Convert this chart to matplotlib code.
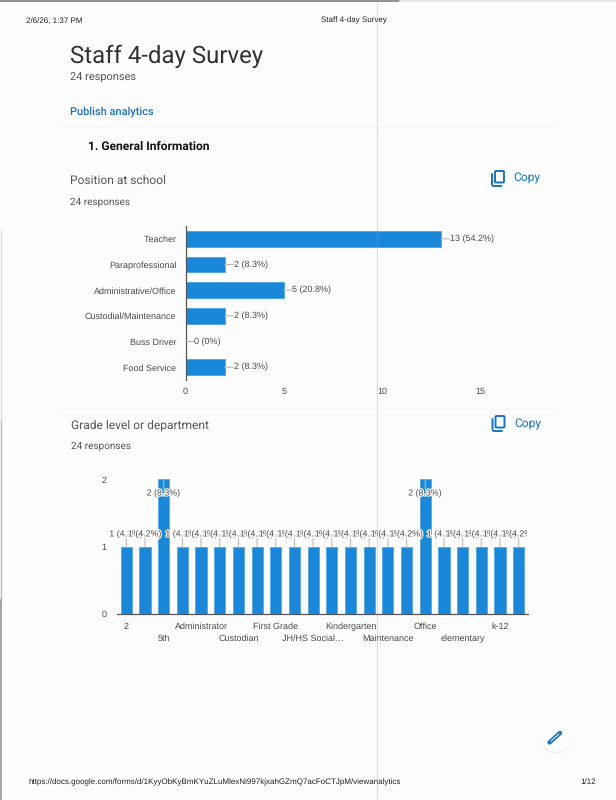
import matplotlib
matplotlib.use("Agg")
import matplotlib.pyplot as plt
import matplotlib.patheffects as pe
from matplotlib.patches import Circle, FancyBboxPatch
from matplotlib.transforms import Bbox

plt.rcParams["text.hinting"] = "no_hinting"
plt.rcParams["text.hinting_factor"] = 1

W, H = 616, 800
DPI = 100
BLUE = "#1a87d8"
LINK = "#1a73c0"
TXT = "#444444"
SANS = "Liberation Sans"
ROB = "Roboto"
CHART_FS = 6.35

positions = ["Teacher", "Paraprofessional", "Administrative/Office",
             "Custodial/Maintenance", "Buss Driver", "Food Service"]
position_counts = [13, 2, 5, 2, 0, 2]
position_labels = ["13 (54.2%)", "2 (8.3%)", "5 (20.8%)", "2 (8.3%)", "0 (0%)", "2 (8.3%)"]
position_ticks = [0, 5, 10, 15]

# Only every second category name is legible in the reference
grades = ["2", "", "5th", "", "Administrator", "", "Custodian", "", "First Grade", "",
          "JH/HS Social…", "", "Kindergarten", "", "Maintenance", "", "Office", "",
          "elementary", "", "k-12", ""]
grade_counts = [1, 1, 2, 1, 1, 1, 1, 1, 1, 1, 1, 1, 1, 1, 1, 1, 2, 1, 1, 1, 1, 1]
grade_labels = ["8.3%" if c == 2 else "4.2%" for c in grade_counts]
grade_ticks = [0, 1, 2]


def axes_px(fig, left, top, right, bottom):
    return fig.add_axes([left / W, 1 - bottom / H, (right - left) / W, (bottom - top) / H])


fig = plt.figure(figsize=(W / DPI, H / DPI), dpi=DPI, facecolor="#fdfdfd")

# page layer in pixel coordinates
pg = fig.add_axes([0, 0, 1, 1], zorder=0)
pg.set_xlim(0, W)
pg.set_ylim(H, 0)
pg.axis("off")


def t(x, y, s, size, color=TXT, family=SANS, **kw):
    kw.setdefault("va", "center")
    pg.text(x, y, s, fontsize=size, color=color, family=family, **kw)


t(26, 20.5, "2/6/26, 1:37 PM", 5.8, "#222222")
t(353.5, 20, "Staff 4-day Survey", 5.8, "#222222", ha="center")
t(70, 56, "Staff 4-day Survey", 17.6, "#333333", ROB)
t(70, 77.5, "24 responses", 7.8, "#555555", ROB)
t(70, 112, "Publish analytics", 8.1, LINK, ROB, fontweight="medium")
t(87.5, 146.5, "1. General Information", 8.7, "#111111", ROB, fontweight="bold")
t(70, 180.5, "Position at school", 8.9, "#555555", ROB)
t(70, 202, "24 responses", 6.9, "#555555", ROB)
t(71, 425, "Grade level or department", 8.9, "#555555", ROB)
t(71, 446.5, "24 responses", 6.9, "#555555", ROB)
t(28, 782, "https://docs.google.com/forms/d/1KyyObKyBmKYuZLuMlexNi997kjxahGZmQ7acFoCTJpM/viewanalytics",
  5.8, "#222222")
t(596, 782, "1/12", 5.8, "#222222", ha="right")


def copy_icon(x, y):
    pg.add_patch(FancyBboxPatch((x + 3, y), 9, 11.5, boxstyle="round,pad=0,rounding_size=1",
                                fc="none", ec=LINK, lw=1.4))
    pg.plot([x, x, x + 1, x + 9.5], [y + 3, y + 13.5, y + 15, y + 15], color=LINK, lw=1.4,
            solid_capstyle="round")


copy_icon(492, 171)
t(513.5, 178.5, "Copy", 8.4, LINK, ROB)
copy_icon(492.5, 416)
t(514, 424.5, "Copy", 8.4, LINK, ROB)

# scan artefacts and faint card edges
pg.plot([0, 400], [0.6, 0.6], color="#8a9298", lw=1.4)
pg.plot([400, 616], [0.6, 0.6], color="#e4e6e8", lw=1.2)
pg.plot([0.5, 0.5], [230, 420], color="#e2e2e2", lw=1.0)
pg.plot([0.5, 0.5], [420, 600], color="#bdbdbd", lw=1.0)
pg.plot([0.5, 0.5], [600, 800], color="#8f8f8f", lw=1.1)
pg.plot([60, 555], [126.7, 126.7], color="#f6f6f6", lw=0.8)
pg.plot([60, 555], [408.7, 408.7], color="#f6f6f6", lw=0.8)

# floating edit button
pg.add_patch(Circle((556, 738), 15.5, fc="#efefef", ec="none"))
pg.add_patch(Circle((556, 736.5), 15.5, fc="#fdfdfd", ec="none"))
pg.plot([549.5, 560], [742.5, 733], color=LINK, lw=3.1, solid_capstyle="round")
pg.plot([551, 559], [741, 734], color="#e8f0f8", lw=0.7)

# chart 1
ax1 = axes_px(fig, 185.5, 226, 185.5 + 17 * 19.65, 380)
ax1.set_facecolor("none")
ax1.barh(range(len(positions)), position_counts, height=0.6, color=BLUE, edgecolor="#4aa3e6", lw=0.6, zorder=2)
ax1.set_xlim(0, 17)
ax1.set_ylim(len(positions) - 0.5, -0.5)
ax1.set_yticks(range(len(positions)), positions)
ax1.set_xticks(position_ticks)
ax1.tick_params(length=0, labelsize=CHART_FS, labelcolor="#4a4a4a", pad=6.5)
ax1.tick_params(axis="x", pad=5.2)
for lab in ax1.get_xticklabels() + ax1.get_yticklabels():
    lab.set_family(SANS)
for s in ["top", "right", "bottom"]:
    ax1.spines[s].set_visible(False)
ax1.spines["left"].set_color("#555555")
ax1.spines["left"].set_linewidth(0.9)
for i, (v, lab) in enumerate(zip(position_counts, position_labels)):
    ax1.annotate(lab, (v, i), xytext=(6.3, 0), textcoords="offset points", va="center", ha="left",
                 fontsize=CHART_FS, color="#4a4a4a", family=SANS,
                 arrowprops=dict(arrowstyle="-", color="#bbbbbb", lw=0.8, shrinkA=0, shrinkB=0,
                                 patchA=None, relpos=(0, 0.5)))

# chart 2
ax2 = axes_px(fig, 117, 479.3, 528, 614)
ax2.set_facecolor("none")
ax2.bar(range(len(grades)), grade_counts, width=0.6, color=BLUE, edgecolor="#4aa3e6", lw=0.5, zorder=2)
ax2.set_xlim(-0.5, len(grades) - 0.5)
ax2.set_ylim(0, 2)
ax2.set_yticks(grade_ticks)
tick_idx = [i for i, g in enumerate(grades) if g]
row1 = tick_idx[0::2]
row2 = tick_idx[1::2]
ax2.set_xticks(row1, [grades[i] for i in row1])
ax2.set_xticks(row2, [grades[i] for i in row2], minor=True)
ax2.tick_params(which="both", length=0, labelsize=CHART_FS, labelcolor="#4a4a4a")
ax2.tick_params(axis="x", which="major", pad=10.6)
ax2.tick_params(axis="x", which="minor", pad=19.2)
ax2.tick_params(axis="y", pad=7.5)
for lab in ax2.get_xticklabels() + ax2.get_xticklabels(minor=True):
    lab.set_verticalalignment("baseline")
    lab.set_family(SANS)
for lab in ax2.get_yticklabels():
    lab.set_family(SANS)
for s in ["top", "right", "left"]:
    ax2.spines[s].set_visible(False)
ax2.spines["bottom"].set_color("#555555")
ax2.spines["bottom"].set_linewidth(0.9)

clip = Bbox.from_extents(100, 0, 527, H)
for i, (v, pct) in enumerate(zip(grade_counts, grade_labels)):
    off = -7 if v == 2 else 6
    ann = ax2.annotate(f"{v} ({pct})", (i, v), xytext=(0, off), textcoords="offset points",
                       ha="center", va="top" if v == 2 else "bottom",
                       fontsize=CHART_FS, color="#4a4a4a", family=SANS, zorder=5,
                       annotation_clip=False,
                       path_effects=[pe.withStroke(linewidth=1.6, foreground="white")],
                       arrowprops=dict(arrowstyle="-", color="#bbbbbb", lw=0.8, shrinkA=0, shrinkB=0,
                                       patchA=None,
                                       relpos=(0.5, 1) if v == 2 else (0.5, 0)))
    ann.set_clip_on(True)
    ann.set_clip_box(clip)

# scanner streak across the page
pg2 = fig.add_axes([0, 0, 1, 1], zorder=10)
pg2.set_xlim(0, W)
pg2.set_ylim(H, 0)
pg2.axis("off")
pg2.plot([377.3, 377.3], [0, H], color="#9aa0a6", lw=0.9, alpha=0.3)

fig.savefig("out.png", dpi=DPI, facecolor=fig.get_facecolor())
